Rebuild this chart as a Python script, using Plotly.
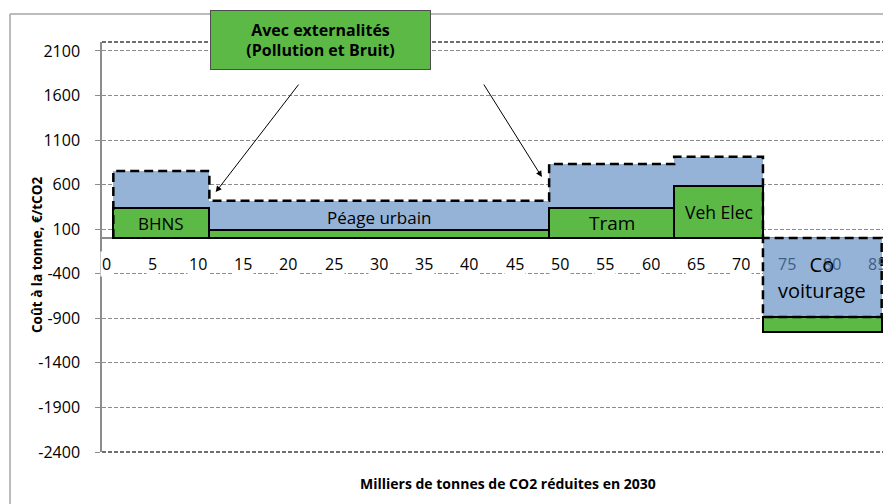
import plotly.graph_objects as go

# ---------------- data ----------------
measures = ["BHNS", "Péage urbain", "Tram", "Veh Elec", "Co<br>voiturage"]
edges = [0.7, 11.3, 48.8, 62.6, 72.4, 85.5]          # cumulative CO2 reductions (kt)
cost_without_ext = [333, 92, 334, 584, -1053]        # green (sans externalités)
cost_with_ext = [753, 420, 831, 913, -884]           # blue (avec externalités)
y_ticks = [2100, 1600, 1100, 600, 100, -400, -900, -1400, -1900, -2400]
x_ticks = [0, 5, 10, 15, 20, 25, 30, 35, 40, 45, 50, 55, 60, 65, 70, 75, 80, 85]

# style
label_sizes = [17, 17, 19, 17.5, 20]
GREEN = "#5cb946"
BLUE = "#95b3d7"
GRID = "#8c8c8c"
FONT = "Open Sans"

centers = [(a + b) / 2 for a, b in zip(edges[:-1], edges[1:])]
widths = [b - a for a, b in zip(edges[:-1], edges[1:])]

green_base = [0 if g >= 0 else b for g, b in zip(cost_without_ext, cost_with_ext)]
green_h = [g - base for g, base in zip(cost_without_ext, green_base)]

fig = go.Figure()
fig.add_trace(go.Bar(x=centers, y=cost_with_ext, width=widths, base=[0] * len(centers),
                     marker=dict(color=BLUE, line=dict(width=0)), showlegend=False,
                     hoverinfo="skip"))
fig.add_trace(go.Bar(x=centers, y=green_h, width=widths, base=green_base,
                     marker=dict(color=GREEN, line=dict(color="black", width=2)),
                     showlegend=False, hoverinfo="skip"))

# dashed outline of the "avec externalités" step curve
ox, oy = [edges[0]], [0]
for i, v in enumerate(cost_with_ext):
    ox += [edges[i], edges[i + 1]]
    oy += [v, v]
ox += [edges[-1], edges[-2]]
oy += [0, 0]
fig.add_trace(go.Scatter(x=ox, y=oy, mode="lines",
                         line=dict(color="black", width=2.5, dash="9px,5px"),
                         showlegend=False, hoverinfo="skip"))

annotations = []
# x tick labels placed next to the zero line (hide gridline behind them)
for t in x_ticks:
    under_bar = t > edges[-2]
    annotations.append(dict(
        x=t, y=-290, xref="x", yref="y", text=str(t), showarrow=False,
        font=dict(family=FONT, size=16, color="#3f5f86" if under_bar else "black"),
        bgcolor="rgba(0,0,0,0)" if under_bar else "white", borderpad=1,
        xanchor="center", yanchor="middle"))

# labels inside the bars
for i, name in enumerate(measures):
    g, b = cost_without_ext[i], cost_with_ext[i]
    if g < 0:
        ly = b / 2
    elif g > 200:
        ly = g / 2
    else:
        ly = (g + b) / 2 - 20
    annotations.append(dict(x=centers[i], y=ly, xref="x", yref="y", text=name,
                            showarrow=False,
                            font=dict(family=FONT, size=label_sizes[i], color="black"),
                            xanchor="center", yanchor="middle"))

# callout box
annotations.append(dict(
    x=(320.5 - 102) / 786, y=(452 - 40) / 410, xref="paper", yref="paper",
    text="<b>Avec externalités<br>(Pollution et Bruit)</b>", showarrow=False,
    font=dict(family=FONT, size=16, color="black"), bgcolor=GREEN,
    bordercolor="#4d4d4d", borderwidth=1, borderpad=0, width=219, height=58,
    align="center", xanchor="center", yanchor="middle"))
# arrows
annotations.append(dict(x=12.0, y=516, xref="x", yref="y", text="", showarrow=True,
                        ax=84, ay=-109, axref="pixel", ayref="pixel",
                        arrowhead=2, arrowsize=1.2, arrowwidth=1, arrowcolor="black"))
annotations.append(dict(x=48.0, y=685, xref="x", yref="y", text="", showarrow=True,
                        ax=-59, ay=-94, axref="pixel", ayref="pixel",
                        arrowhead=2, arrowsize=1.2, arrowwidth=1, arrowcolor="black"))
# axis titles
annotations.append(dict(x=(37 - 102) / 786, y=(452 - 255) / 410, xref="paper", yref="paper",
                        text="<b>Coût à la tonne, €/tCO2</b>", textangle=-90, showarrow=False,
                        font=dict(family=FONT, size=13.5, color="black"),
                        xanchor="center", yanchor="middle"))
annotations.append(dict(x=(508 - 102) / 786, y=(452 - 483) / 410, xref="paper", yref="paper",
                        text="<b>Milliers de tonnes de CO2 réduites en 2030</b>", showarrow=False,
                        font=dict(family=FONT, size=14, color="black"),
                        xanchor="center", yanchor="middle"))

shapes = [
    # outer chart frame
    dict(type="line", xref="paper", yref="paper", x0=(10 - 102) / 786, x1=1.1,
         y0=(452 - 14) / 410, y1=(452 - 14) / 410, line=dict(color="#a6a6a6", width=1.5)),
    dict(type="line", xref="paper", yref="paper", x0=(10 - 102) / 786, x1=(10 - 102) / 786,
         y0=(452 - 14) / 410, y1=-0.3, line=dict(color="#a6a6a6", width=1.5)),
    # dashed plot-area border (top, right, bottom)
    dict(type="line", xref="paper", yref="paper", x0=0, x1=1, y0=1, y1=1,
         line=dict(color="#404040", width=1.5, dash="4px,2px")),
    dict(type="line", xref="paper", yref="paper", x0=1, x1=1, y0=0, y1=1,
         line=dict(color="#404040", width=1.5, dash="4px,2px")),
    dict(type="line", xref="paper", yref="paper", x0=0, x1=1, y0=0, y1=0,
         line=dict(color="#404040", width=1.5, dash="4px,2px")),
]

fig.update_layout(
    width=883, height=496,
    margin=dict(l=94, r=3, t=34, b=52),
    paper_bgcolor="white", plot_bgcolor="white",
    barmode="overlay", bargap=0,
    font=dict(family=FONT, size=16, color="black"),
    xaxis=dict(range=[-0.55, 86.2], showgrid=False, zeroline=False,
               showticklabels=False, showline=False, ticks=""),
    yaxis=dict(range=[-2400, 2200], tickmode="array", tickvals=y_ticks,
               ticktext=[str(v) for v in y_ticks],
               showgrid=True, gridcolor=GRID, gridwidth=1, griddash="4px,2px",
               zeroline=True, zerolinecolor="#8c8c8c", zerolinewidth=1.5,
               showline=True, linecolor="#8c8c8c", linewidth=1.5,
               ticks="outside", ticklen=5, tickcolor="#8c8c8c",
               tickfont=dict(family=FONT, size=16, color="black"),
               ticklabelstandoff=12),
    annotations=annotations,
    shapes=shapes,
)

fig.write_html("out.html")
